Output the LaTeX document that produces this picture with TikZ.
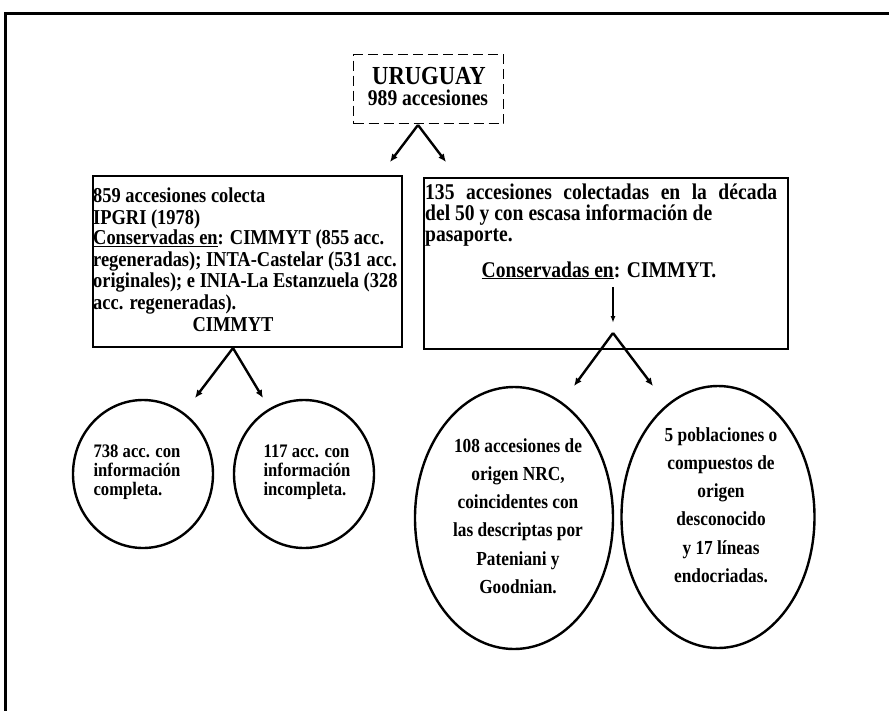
\documentclass[tikz,border=0pt]{standalone}
\usepackage{fontspec}
\setmainfont{Liberation Serif}
\newfontfamily\angosta[FakeStretch=0.87]{Liberation Serif}
\usetikzlibrary{shapes.geometric,arrows.meta,positioning}

\begin{document}
\begin{tikzpicture}[x=1pt,y=-1pt,
		caja/.style={draw=black,line width=2.4pt,anchor=north west,inner sep=0pt},
		elipse/.style={draw=black,ellipse,line width=2.4pt,inner sep=0pt},
		flecha/.style={line width=2.4pt,-{Latex[length=8pt,width=7pt]}},
		textocaja/.style={font=\angosta\bfseries\fontsize{21.2}{21.6}\selectfont,align=left,inner sep=0pt,anchor=north west},
		textoder/.style={font=\angosta\bfseries\fontsize{22.5}{20.6}\selectfont,align=left,inner sep=0pt,anchor=north west},
		textocirc/.style={font=\angosta\bfseries\fontsize{19.1}{19}\selectfont,align=left,inner sep=0pt},
		textoelip/.style={font=\angosta\bfseries\fontsize{19.9}{28.3}\selectfont,align=center,inner sep=0pt}]
		\useasboundingbox (0,0) rectangle (889,710);
		
		% marco exterior
		\draw[line width=3pt] (5,715) -- (5,13) -- (894,13);
		
		\node[caja,line width=1pt,dash pattern=on 10pt off 5pt,minimum width=150,minimum height=69] (pais) at (353,54) {};
		\node[font=\angosta\bfseries\fontsize{26}{26}\selectfont,inner sep=0pt,anchor=base] (paisnom) at (429,84) {URUGUAY};
		\node[font=\angosta\bfseries\fontsize{22.5}{22}\selectfont,inner sep=0pt,anchor=base] (paisacc) at (428,105) {989 accesiones};
		
		\node[caja,minimum width=309,minimum height=171] (izq) at (92,175) {};
		\node[caja,minimum width=364,minimum height=171] (der) at (423,177) {};
		
		\node[textocaja] (izqtxt) at (93,188) {859 accesiones colecta\\
			IPGRI (1978)\\[-1.5pt]
			\underline{Conservadas en}: CIMMYT (855 acc.\\
			regeneradas); INTA-Castelar (531 acc.\\
			originales); e INIA-La Estanzuela (328\\
			acc. regeneradas).};
		\node[textocaja,anchor=base] (izqcim) at (233,331) {CIMMYT};
		
		\node[textoder] (dertxt) at (425,184) {\makebox[352pt][s]{135 accesiones colectadas en la década}\\
			del 50 y con escasa información de\\
			pasaporte.};
		\node[textoder,anchor=base] (dercons) at (599,277) {\underline{Conservadas en}: CIMMYT.};
		
		\node[elipse,minimum width=140,minimum height=148] (completa) at (143,474) {};
		\node[textocirc] (completatxt) at (137,472) {738 acc. con\\información\\completa.};
		\node[elipse,minimum width=140,minimum height=148] (incompleta) at (304,474) {};
		\node[textocirc] (incompletatxt) at (307,472) {117 acc. con\\información\\incompleta.};
		
		\node[elipse,minimum width=198,minimum height=262] (nrc) at (514,518) {};
		\node[textoelip] (nrctxt) at (518,516) {108 accesiones de\\origen NRC,\\coincidentes con\\las descriptas por\\Pateniani y\\Goodnian.};
		\node[elipse,minimum width=193,minimum height=262] (descon) at (718,517) {};
		\node[textoelip] (descontxt) at (721,505) {5 poblaciones o\\compuestos de\\origen\\desconocido\\y 17 líneas\\endocriadas.};
		
		\coordinate (v1) at (418,125);
		\coordinate (p1) at (390,162);
		\coordinate (p2) at (446,162);
		\coordinate (v2) at (233,348);
		\coordinate (p3) at (195,398);
		\coordinate (p4) at (263,398);
		\coordinate (a1) at (613,287);
		\coordinate (a2) at (613,323);
		\coordinate (v3) at (613,333);
		\coordinate (p5) at (574,386);
		\coordinate (p6) at (653,386);
		
		\draw[flecha] (v1) -- (p1);
		\draw[flecha] (v1) -- (p2);
		\draw[flecha] (v2) -- (p3);
		\draw[flecha] (v2) -- (p4);
		\draw[line width=1.6pt,-{Latex[length=7pt,width=5pt]}] (a1) -- (a2);
		\draw[flecha] (v3) -- (p5);
		\draw[flecha] (v3) -- (p6);
		
\end{tikzpicture}
\end{document}
